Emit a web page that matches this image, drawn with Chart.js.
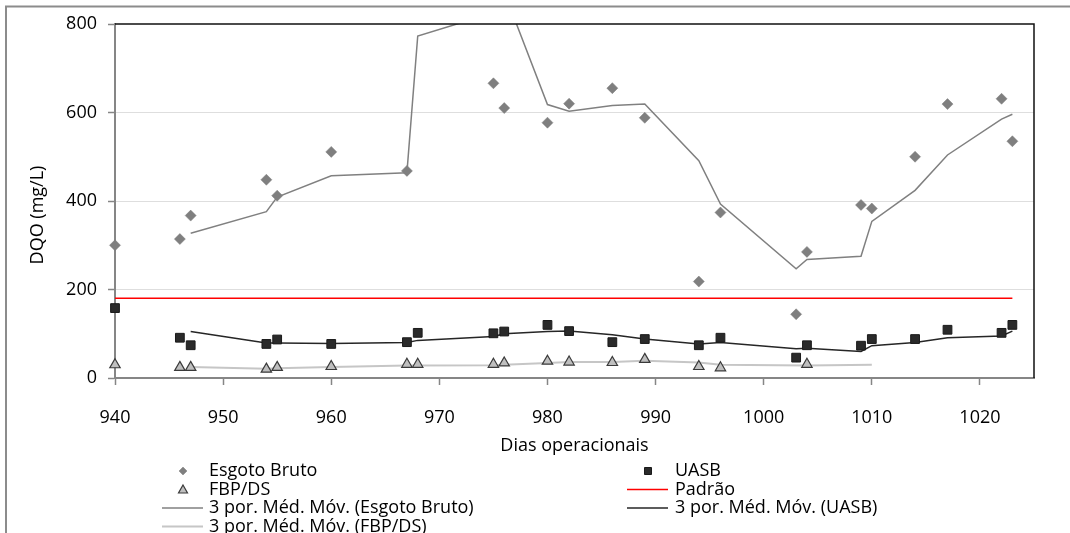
<!DOCTYPE html>
<html lang="pt">
<head>
<meta charset="utf-8">
<title>DQO</title>
<script src="https://cdn.jsdelivr.net/npm/chart.js@4.4.1/dist/chart.umd.min.js"></script>
<style>
  html, body { margin: 0; padding: 0; background: #ffffff; overflow: hidden; }
  canvas { display: block; }
</style>
</head>
<body>
<canvas id="grafico" width="1070" height="533"></canvas>
<script>
// Dias de operação com amostragem
const dias = [940, 946, 947, 954, 955, 960, 967, 968, 975, 976, 980, 982, 986, 989, 994, 996, 1003, 1004, 1009, 1010, 1014, 1017, 1022, 1023];
// DQO (mg/L) por ponto de coleta
const esgotoBruto = [300, 314, 367, 448, 412, 511, 468, 1340, 666, 610, 577, 620, 655, 588, 218, 374, 144, 285, 391, 383, 500, 619, 631, 535];
const uasb = [158, 91, 74, 77, 87, 77, 81, 102, 101, 105, 120, 106, 81, 88, 74, 91, 46, 74, 73, 88, 88, 109, 102, 120];
const diasFbp = [940, 946, 947, 954, 955, 960, 967, 968, 975, 976, 980, 982, 986, 989, 994, 996, 1004];
const fbpDs = [30, 24, 24, 20, 24, 26, 31, 31, 31, 34, 38, 36, 35, 42, 26, 23, 31];

// Médias móveis de 3 períodos
const diasMedia = [947, 954, 955, 960, 967, 968, 975, 976, 980, 982, 986, 989, 994, 996, 1003, 1004, 1009, 1010, 1014, 1017, 1022, 1023];
const mediaEsgoto = [327, 376, 409, 457, 464, 773, 825, 872, 618, 603, 616, 619, 491, 393, 247, 268, 275, 354, 424, 504, 585, 596];
const mediaUasb = [105, 79, 79, 78, 80, 85, 94, 100, 105, 106, 98, 88, 77, 80, 66, 67, 60, 73, 80, 91, 95, 106];
const diasMediaFbp = [947, 954, 955, 960, 967, 968, 975, 976, 980, 982, 986, 989, 994, 996, 1004, 1010];
const mediaFbp = [25, 21, 22, 25, 28, 28, 29, 30, 34, 36, 36, 39, 35, 30, 28, 30];

// Limite de lançamento
const diasPadrao = [940, 1023];
const padrao = [180, 180];

// Marcas dos eixos
const ticksX = [940, 950, 960, 970, 980, 990, 1000, 1010, 1020];
const ticksY = [0, 200, 400, 600, 800];

const pares = (xs, ys) => xs.map((x, i) => ({ x: x, y: ys[i] }));

const FONTE = '"Open Sans", "Noto Sans", sans-serif';
const CINZA_EIXO = '#868686';

const area = { left: 115, top: 24, right: 1034, bottom: 378 };

// Moldura externa e fundo
const moldura = {
  id: 'moldura',
  beforeDraw(chart) {
    const ctx = chart.ctx;
    ctx.save();
    ctx.fillStyle = '#ffffff';
    ctx.fillRect(0, 0, chart.width, chart.height);
    ctx.strokeStyle = '#8c8c8c';
    ctx.lineWidth = 2;
    ctx.strokeRect(6, 6.5, chart.width + 40, chart.height + 40);
    ctx.restore();
  },
  afterDraw(chart) {
    const ctx = chart.ctx;
    const a = chart.chartArea;
    ctx.save();
    // bordas superior e direita da área de plotagem
    ctx.strokeStyle = '#111111';
    ctx.lineWidth = 1.5;
    ctx.beginPath();
    ctx.moveTo(a.left, a.top);
    ctx.lineTo(a.right, a.top);
    ctx.lineTo(a.right, a.bottom);
    ctx.stroke();
    // título do eixo vertical
    ctx.fillStyle = '#000000';
    ctx.font = '18px ' + FONTE;
    ctx.textAlign = 'center';
    ctx.textBaseline = 'middle';
    ctx.translate(38, 215);
    ctx.rotate(-Math.PI / 2);
    ctx.fillText('DQO (mg/L)', 0, 0);
    ctx.restore();
  }
};

// Legenda em duas colunas
function desenhaMarcador(ctx, estilo, x, y) {
  ctx.beginPath();
  if (estilo === 'rectRot') {
    const r = 4;
    ctx.moveTo(x, y - r); ctx.lineTo(x + r, y); ctx.lineTo(x, y + r); ctx.lineTo(x - r, y); ctx.closePath();
  } else if (estilo === 'rect') {
    ctx.rect(x - 3.5, y - 3.5, 7, 7);
  } else if (estilo === 'triangle') {
    ctx.moveTo(x, y - 4.5); ctx.lineTo(x + 4.5, y + 3.5); ctx.lineTo(x - 4.5, y + 3.5); ctx.closePath();
  }
  ctx.fill();
  ctx.stroke();
}

const legenda = {
  id: 'legendaColunas',
  afterDraw(chart) {
    const ctx = chart.ctx;
    const colunas = [{ meio: 183, texto: 209 }, { meio: 648, texto: 675 }];
    const linhas = [471, 489.5, 508, 526.5];
    const ordem = [[0, 0, 0], [1, 1, 0], [2, 0, 1], [3, 1, 1], [4, 0, 2], [5, 1, 2], [6, 0, 3]];
    ctx.save();
    ctx.font = '18px ' + FONTE;
    ctx.textBaseline = 'middle';
    ctx.textAlign = 'left';
    ordem.forEach(([indice, col, lin]) => {
      const ds = chart.data.datasets[indice];
      const c = colunas[col];
      const y = linhas[lin];
      if (ds.showLine) {
        ctx.strokeStyle = ds.borderColor;
        ctx.lineWidth = ds.borderWidth;
        ctx.beginPath();
        ctx.moveTo(c.meio - 21, y);
        ctx.lineTo(c.meio + 20, y);
        ctx.stroke();
      } else {
        ctx.fillStyle = ds.backgroundColor;
        ctx.strokeStyle = ds.borderColor;
        ctx.lineWidth = ds.borderWidth || 0.01;
        desenhaMarcador(ctx, ds.pointStyle, c.meio, y);
      }
      ctx.fillStyle = '#000000';
      ctx.fillText(ds.label, c.texto, y);
    });
    ctx.restore();
  }
};

new Chart(document.getElementById('grafico'), {
  type: 'scatter',
  data: {
    datasets: [
      {
        label: 'Esgoto Bruto',
        data: pares(dias, esgotoBruto),
        pointStyle: 'rectRot',
        pointRadius: 5.5,
        backgroundColor: '#7f7f7f',
        borderColor: '#7f7f7f',
        borderWidth: 0.5,
        showLine: false,
        clip: false
      },
      {
        label: 'UASB',
        data: pares(dias, uasb),
        pointStyle: 'rect',
        pointRadius: 6.2,
        backgroundColor: '#2a2a2a',
        borderColor: '#1a1a1a',
        borderWidth: 1,
        showLine: false,
        clip: false
      },
      {
        label: 'FBP/DS',
        data: pares(diasFbp, fbpDs),
        pointStyle: 'triangle',
        pointRadius: 6,
        backgroundColor: '#bfbfbf',
        borderColor: '#3a3a3a',
        borderWidth: 1.2,
        showLine: false,
        clip: false
      },
      {
        label: 'Padrão',
        data: pares(diasPadrao, padrao),
        showLine: true,
        pointRadius: 0,
        borderColor: '#ff0000',
        backgroundColor: '#ff0000',
        borderWidth: 1.5,
        clip: 0
      },
      {
        label: '3 por. Méd. Móv. (Esgoto Bruto)',
        data: pares(diasMedia, mediaEsgoto),
        showLine: true,
        pointRadius: 0,
        borderColor: '#808080',
        backgroundColor: '#808080',
        borderWidth: 1.5,
        clip: 0
      },
      {
        label: '3 por. Méd. Móv. (UASB)',
        data: pares(diasMedia, mediaUasb),
        showLine: true,
        pointRadius: 0,
        borderColor: '#262626',
        backgroundColor: '#262626',
        borderWidth: 1.5,
        clip: 0
      },
      {
        label: '3 por. Méd. Móv. (FBP/DS)',
        data: pares(diasMediaFbp, mediaFbp),
        showLine: true,
        pointRadius: 0,
        borderColor: '#c6c6c6',
        backgroundColor: '#c6c6c6',
        borderWidth: 2,
        clip: 0
      }
    ]
  },
  options: {
    responsive: false,
    animation: false,
    devicePixelRatio: 1,
    layout: { padding: { left: 0, top: area.top, right: 1070 - area.right, bottom: 0 } },
    plugins: {
      legend: { display: false },
      tooltip: { enabled: false }
    },
    scales: {
      x: {
        type: 'linear',
        min: 940,
        max: 1025,
        afterBuildTicks(scale) { scale.ticks = ticksX.map(v => ({ value: v })); },
        afterFit(scale) { scale.height = 533 - area.bottom; },
        grid: {
          drawOnChartArea: false,
          drawTicks: true,
          tickLength: 7,
          tickColor: CINZA_EIXO,
          tickWidth: 1.5
        },
        border: { display: true, color: CINZA_EIXO, width: 2 },
        ticks: {
          color: '#000000',
          font: { family: FONTE, size: 18 },
          padding: 22,
          maxRotation: 0,
          autoSkip: false,
          callback: v => String(v)
        },
        title: {
          display: true,
          text: 'Dias operacionais',
          color: '#000000',
          font: { family: FONTE, size: 18 },
          padding: { top: 0, bottom: 76 }
        }
      },
      y: {
        type: 'linear',
        min: 0,
        max: 800,
        afterBuildTicks(scale) { scale.ticks = ticksY.map(v => ({ value: v })); },
        afterFit(scale) { scale.width = area.left; },
        grid: {
          color: ctx => (ctx.tick && (ctx.tick.value === 0 || ctx.tick.value === 800)) ? 'rgba(0,0,0,0)' : '#dedede',
          lineWidth: 1,
          drawTicks: true,
          tickLength: 7,
          tickColor: CINZA_EIXO,
          tickWidth: 1.5
        },
        border: { display: true, color: CINZA_EIXO, width: 2 },
        ticks: {
          color: '#000000',
          font: { family: FONTE, size: 18 },
          padding: 11,
          callback: v => String(v)
        },
        title: { display: false }
      }
    }
  },
  plugins: [moldura, legenda]
});
</script>
</body>
</html>
